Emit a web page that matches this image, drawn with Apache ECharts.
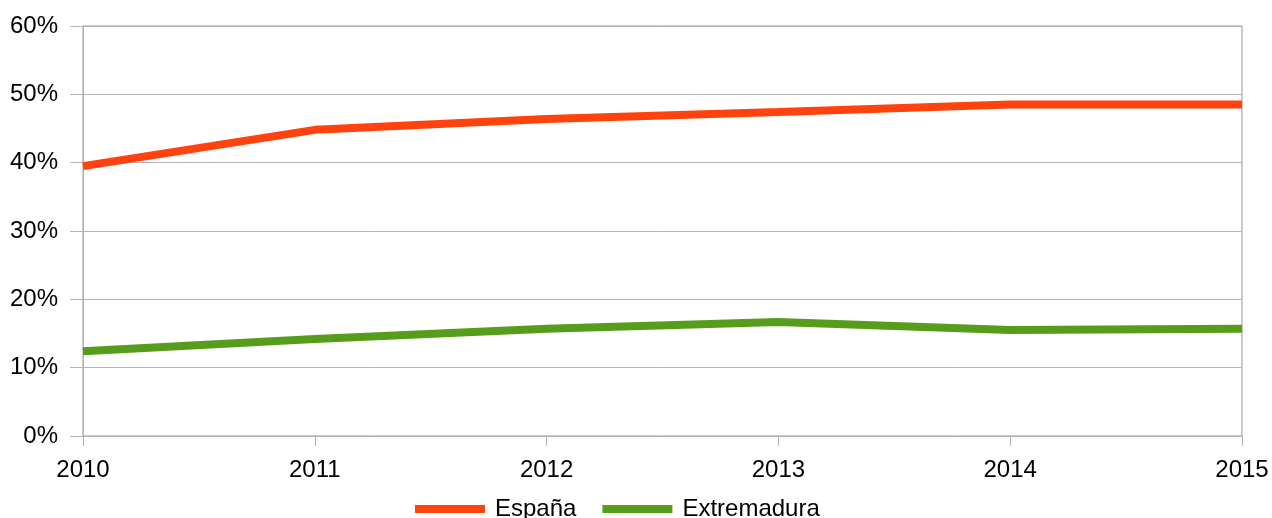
<!DOCTYPE html>
<html><head><meta charset="utf-8">
<script src="https://cdn.jsdelivr.net/npm/echarts@6/dist/echarts.min.js"></script>
<style>html,body{margin:0;padding:0;background:#fff}#c{width:1272px;height:518px}</style>
</head><body><div id="c"></div>
<script>
const years = ['2010','2011','2012','2013','2014','2015'];
const espana = [39.5, 44.8, 46.4, 47.4, 48.5, 48.5];
const extremadura = [12.4, 14.2, 15.7, 16.7, 15.5, 15.7];
const seriesNames = ['España', 'Extremadura'];
const colors = ['#ff420e', '#579d1c'];

const chart = echarts.init(document.getElementById('c'));
const font = 'Liberation Sans, Arial, sans-serif';
chart.setOption({
  animation: false,
  color: colors,
  grid: {left: 83, right: 30, top: 26, bottom: 82, show: true, borderColor: '#999', borderWidth: 1},
  legend: {
    top: 492, left: 410, icon: 'rect', itemWidth: 70, itemHeight: 8, itemGap: 26,
    textStyle: {fontFamily: font, fontSize: 24, color: '#000', padding: [0, 0, 0, 5]},
    data: seriesNames
  },
  xAxis: {
    type: 'category', data: years, boundaryGap: false,
    axisLine: {lineStyle: {color: '#b3b3b3'}},
    axisTick: {show: true, length: 10, lineStyle: {color: '#b3b3b3'}},
    axisLabel: {fontFamily: font, fontSize: 24, color: '#000', margin: 22},
    splitLine: {show: false}
  },
  yAxis: {
    type: 'value', min: 0, max: 60, interval: 10,
    axisLine: {show: true, lineStyle: {color: '#b3b3b3'}},
    axisTick: {show: true, length: 13, lineStyle: {color: '#b3b3b3'}},
    axisLabel: {fontFamily: font, fontSize: 24, color: '#000', margin: 25, padding: [4, 0, 0, 0], formatter: '{value}%'},
    splitLine: {lineStyle: {color: '#b3b3b3'}}
  },
  series: [
    {name: seriesNames[0], type: 'line', data: espana, symbol: 'none', lineStyle: {width: 8}},
    {name: seriesNames[1], type: 'line', data: extremadura, symbol: 'none', lineStyle: {width: 8}}
  ]
});
</script></body></html>
